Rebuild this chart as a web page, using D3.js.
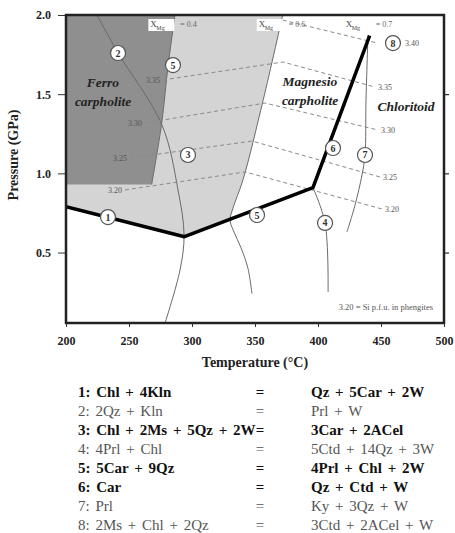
<!DOCTYPE html>
<html>
<head>
<meta charset="utf-8">
<script src="https://cdnjs.cloudflare.com/ajax/libs/d3/7.8.5/d3.min.js"></script>
<style>
  body { margin: 0; background: #fff; }
  svg text { font-family: "Liberation Serif", "Times New Roman", serif; }
  .small { opacity: 0.99; }
</style>
</head>
<body>
<div id="chart"></div>
<script>
// axis ticks
const tempTicks = [200, 250, 300, 350, 400, 450, 500];
const presTicks = [0.5, 1.0, 1.5, 2.0];

// thick limit of carpholite (reactions 1, 5, 6)
const limitT = [200, 294, 396, 441];
const limitP = [0.79, 0.60, 0.91, 1.87];

// ferro-carpholite field (XMg 0.4)
const ferroT = [200, 286.5, 281, 276, 268, 200];
const ferroP = [2.0, 2.0, 1.68, 1.32, 0.93, 0.93];

// XMg 0.6 boundary / reaction 5 thin curve
const line5T = [372, 356.4, 340.5, 332.5, 330.2, 333.3, 338.9, 344.4, 347.6];
const line5P = [2.0, 1.46, 0.96, 0.78, 0.705, 0.63, 0.53, 0.40, 0.24];

// reaction 2
const line2T = [224.6, 241.3, 276.2, 288.9, 293.7, 290.5, 278.6];
const line2P = [2.0, 1.76, 1.305, 0.895, 0.611, 0.39, 0.055];

// reaction 4
const line4T = [396, 405.6, 408];
const line4P = [0.91, 0.687, 0.251];

// reaction 7
const line7T = [439.7, 438.1, 437.3, 434.9, 429.4, 423.0];
const line7P = [1.874, 1.463, 1.116, 0.989, 0.80, 0.63];

// Si isopleths in phengite (dashed)
const isoT = [
  [372, 446.8],
  [277, 372.2, 445.2],
  [262.7, 357.9, 447.6],
  [250.8, 347.6, 449.2],
  [246.8, 342.1, 450.8]
];
const isoP = [
  [1.968, 1.823],
  [1.59, 1.703, 1.545],
  [1.318, 1.444, 1.274],
  [1.097, 1.204, 0.977],
  [0.895, 1.009, 0.775]
];
const isoLeft = ["", "3.35", "3.30", "3.25", "3.20"];
const isoRight = ["3.40", "3.35", "3.30", "3.25", "3.20"];

// numbered reaction markers
const markNum = [1, 2, 5, 3, 5, 4, 6, 7, 8];
const markT = [233.3, 241.3, 284.9, 296.8, 351.6, 405.6, 411.9, 437.3, 459.5];
const markP = [0.724, 1.76, 1.684, 1.116, 0.737, 0.687, 1.16, 1.116, 1.823];

// reaction list
const reacLeft = ["1: Chl + 4Kln", "2: 2Qz + Kln", "3: Chl + 2Ms + 5Qz + 2W", "4: 4Prl + Chl",
  "5: 5Car + 9Qz", "6: Car", "7: Prl", "8: 2Ms + Chl + 2Qz"];
const reacRight = ["Qz + 5Car + 2W", "Prl + W", "3Car + 2ACel", "5Ctd + 14Qz + 3W",
  "4Prl + Chl + 2W", "Qz + Ctd + W", "Ky + 3Qz + W", "3Ctd + 2ACel + W"];
const reacBold = [true, false, true, false, true, true, false, false];

let width = 455;
let height = 533;
let mLeft = 66, mRight = 444, mTop = 15, mBottom = 323;

let svg = d3.select("#chart").append("svg")
  .attr("width", width)
  .attr("height", height);

let x = d3.scaleLinear().domain([200, 500]).range([mLeft, mRight]);
let y = d3.scaleLinear().domain([0.055, 2.0]).range([mBottom, mTop]);

let zip = function (ts, ps) {
  return ts.map(function (t, i) { return [t, ps[i]]; });
};

let line = d3.line()
  .x(function (d) { return x(d[0]); })
  .y(function (d) { return y(d[1]); });

let curve = d3.line()
  .x(function (d) { return x(d[0]); })
  .y(function (d) { return y(d[1]); })
  .curve(d3.curveCatmullRom.alpha(0.5));

svg.append("clipPath").attr("id", "plot")
  .append("rect")
  .attr("x", mLeft).attr("y", mTop)
  .attr("width", mRight - mLeft).attr("height", mBottom - mTop);

let plot = svg.append("g").attr("clip-path", "url(#plot)");

// light grey field: above the limit, left of XMg 0.6 line
let lightPts = zip(line5T.slice(0, 5), line5P.slice(0, 5));
plot.append("path")
  .attr("d", "M" + x(200) + "," + y(2.0) + curve(lightPts).replace("M", "L") +
    "L" + x(limitT[1]) + "," + y(limitP[1]) + "L" + x(limitT[0]) + "," + y(limitP[0]) + "Z")
  .attr("fill", "#d4d4d4");

// ferro-carpholite field
plot.append("path")
  .attr("d", line(zip(ferroT, ferroP)) + "Z")
  .attr("fill", "#8f8f8f");

// thin reaction curves
[[line2T, line2P], [line5T, line5P], [line4T, line4P], [line7T, line7P]].forEach(function (c) {
  plot.append("path")
    .attr("d", curve(zip(c[0], c[1])))
    .attr("fill", "none")
    .attr("stroke", "#6a6a6a")
    .attr("stroke-width", 1);
});

plot.append("path")
  .attr("d", curve(zip(ferroT.slice(1, 5), ferroP.slice(1, 5))))
  .attr("fill", "none")
  .attr("stroke", "#6a6a6a")
  .attr("stroke-width", 1);

// isopleths
isoT.forEach(function (ts, i) {
  plot.append("path")
    .attr("d", line(zip(ts, isoP[i])))
    .attr("fill", "none")
    .attr("stroke", "#8a8a8a")
    .attr("stroke-width", 1)
    .attr("stroke-dasharray", "4,3");
  if (isoLeft[i]) {
    svg.append("text")
      .attr("class", "small")
      .attr("x", x(ts[0]) - 3)
      .attr("y", y(isoP[i][0]) + 3)
      .attr("text-anchor", "end")
      .attr("font-size", 8)
      .attr("fill", "#555")
      .text(isoLeft[i]);
  }
  // first isopleth ends against marker 8, its label sits beyond it
  let shift = i === 0 ? 28 : 3;
  svg.append("text")
    .attr("class", "small")
    .attr("x", x(ts[ts.length - 1]) + shift)
    .attr("y", y(isoP[i][ts.length - 1]) + 3)
    .attr("font-size", 8)
    .attr("fill", "#555")
    .text(isoRight[i]);
});

// carpholite limit
plot.append("path")
  .attr("d", line(zip(limitT, limitP)))
  .attr("fill", "none")
  .attr("stroke", "#000")
  .attr("stroke-width", 3.5)
  .attr("stroke-linejoin", "round");

// XMg labels at top
let xmgT = [286, 372, 441];
let xmgLab = ["= 0.4", "= 0.6", "= 0.7"];
xmgT.forEach(function (t, i) {
  let g = svg.append("g").attr("class", "small")
    .attr("transform", `translate(${x(t) - 24}, ${mTop + 12})`);
  g.append("rect").attr("x", -2).attr("y", -8).attr("width", 26).attr("height", 12).attr("fill", "#fff");
  g.append("text").attr("font-size", 9).attr("fill", "#444").text("X");
  g.append("text").attr("x", 6).attr("y", 3).attr("font-size", 6).attr("fill", "#444").text("Mg");
  g.append("text").attr("x", 30).attr("font-size", 8).attr("fill", "#666").text(xmgLab[i]);
});

// field names
let fieldText = function (tx, ty, lines) {
  let t = svg.append("text")
    .attr("x", tx).attr("y", ty)
    .attr("font-size", 13.5)
    .attr("font-weight", "bold")
    .attr("font-style", "italic")
    .attr("text-anchor", "middle")
    .attr("fill", "#222");
  lines.forEach(function (s, i) {
    t.append("tspan").attr("x", tx).attr("dy", i === 0 ? 0 : 19).text(s);
  });
};
fieldText(103, 87, ["Ferro", "carpholite"]);
fieldText(310, 86, ["Magnesio", "carpholite"]);
svg.append("rect").attr("x", 373).attr("y", 100).attr("width", 66).attr("height", 13).attr("fill", "#fff");
fieldText(406, 111, ["Chloritoid"]);

// reaction markers
markNum.forEach(function (n, i) {
  let g = svg.append("g").attr("transform", `translate(${x(markT[i])}, ${y(markP[i])})`);
  g.append("circle").attr("r", 7.5).attr("fill", "#fff").attr("stroke", "#555").attr("stroke-width", 1.2);
  g.append("text").attr("y", 3.5).attr("text-anchor", "middle").attr("font-size", 10)
    .attr("font-weight", "bold").attr("fill", "#333").text(n);
});

svg.append("text")
  .attr("class", "small")
  .attr("x", 433).attr("y", 310)
  .attr("text-anchor", "end")
  .attr("font-size", 8.5)
  .attr("fill", "#555")
  .text("3.20 = Si p.f.u. in phengites");

// axes
let xAxis = d3.axisBottom(x).tickValues(tempTicks).tickSize(4).tickFormat(d3.format("d"));
let yAxis = d3.axisLeft(y).tickValues(presTicks).tickSize(8).tickFormat(d3.format(".1f"));

let gx = svg.append("g").attr("transform", `translate(0, ${mBottom})`).call(xAxis);
let gy = svg.append("g").attr("transform", `translate(${mLeft}, 0)`).call(yAxis);
svg.append("g").attr("transform", `translate(${mRight}, 0)`)
  .call(d3.axisRight(y).tickValues([0.5, 1.0, 1.5]).tickSize(5).tickFormat(""));

[gx, gy].forEach(function (g) {
  g.selectAll("text")
    .attr("font-family", "Liberation Serif")
    .attr("font-size", 12)
    .attr("font-weight", "bold")
    .attr("fill", "#222");
  g.selectAll("line").attr("stroke", "#333");
});
gx.selectAll("text").attr("dy", "1.25em");
gy.selectAll("text").attr("x", -15);
svg.selectAll(".domain").remove();

svg.append("rect")
  .attr("x", mLeft).attr("y", mTop)
  .attr("width", mRight - mLeft).attr("height", mBottom - mTop)
  .attr("fill", "none")
  .attr("stroke", "#222")
  .attr("stroke-width", 2.5);

svg.append("text")
  .attr("x", 255).attr("y", 367)
  .attr("text-anchor", "middle")
  .attr("font-size", 14)
  .attr("font-weight", "bold")
  .attr("fill", "#222")
  .text("Temperature (°C)");

svg.append("text")
  .attr("transform", "translate(18, 155) rotate(-90)")
  .attr("text-anchor", "middle")
  .attr("font-size", 14)
  .attr("font-weight", "bold")
  .attr("fill", "#222")
  .text("Pressure (GPa)");

// reaction table
reacLeft.forEach(function (s, i) {
  let yy = 392 + i * 19;
  let col = reacBold[i] ? "#111" : "#555";
  let fw = reacBold[i] ? "bold" : "normal";
  svg.append("text").attr("x", 78).attr("y", yy + 5).attr("font-size", 15)
    .attr("word-spacing", 2).attr("font-weight", fw).attr("fill", col).text(s);
  svg.append("text").attr("x", 260).attr("y", yy + 5).attr("font-size", 15)
    .attr("text-anchor", "middle").attr("font-weight", fw).attr("fill", col).text("=");
  svg.append("text").attr("x", 311).attr("y", yy + 5).attr("font-size", 15)
    .attr("word-spacing", 2).attr("font-weight", fw).attr("fill", col).text(reacRight[i]);
});
</script>
</body>
</html>
